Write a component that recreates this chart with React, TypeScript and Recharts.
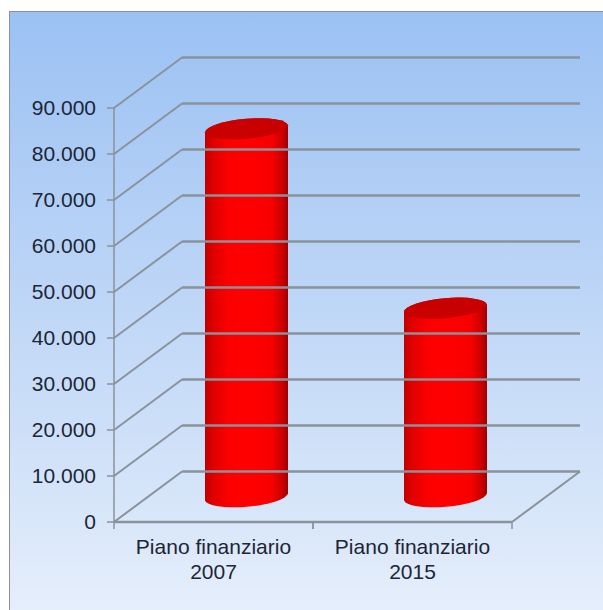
import { Bar, BarChart, XAxis, YAxis } from 'recharts'

const categories = ['Piano finanziario 2007', 'Piano finanziario 2015']
const values = [80000, 41000]
const yTicks = [0, 10000, 20000, 30000, 40000, 50000, 60000, 70000, 80000, 90000]

const chartData = categories.map((name, i) => ({ name, value: values[i] }))

// fake 3D: how far the back wall sits from the front plane
const DEPTH_X = 68
const DEPTH_Y = 50.5
const PLOT_LEFT = 114
const PLOT_WIDTH = 398
const GRID = '#8a929b'
const TEXT = '#1c2635'
const FONT = '"Liberation Sans", Arial, sans-serif'

const formatTick = (v: number) => String(v).replace(/\B(?=(\d{3})+$)/g, '.')

function WallTick({ x, y, payload }: any) {
  const backX = x + DEPTH_X
  const backY = y - DEPTH_Y
  const backEnd = PLOT_LEFT + PLOT_WIDTH + DEPTH_X
  return (
    <g>
      <line x1={x - 7} y1={y} x2={x} y2={y} stroke={GRID} strokeWidth={1.5} />
      <line x1={x} y1={y} x2={backX} y2={backY} stroke={GRID} strokeWidth={2} />
      <line x1={backX} y1={backY} x2={backEnd} y2={backY} stroke={GRID} strokeWidth={2.5} />
      <text
        x={x - 18}
        y={y + 7}
        textAnchor="end"
        fontFamily={FONT}
        fontSize={21}
        fill={TEXT}
      >
        {formatTick(payload.value)}
      </text>
    </g>
  )
}

function CategoryTick({ x, y, payload, index }: any) {
  const band = PLOT_WIDTH / categories.length
  const words = String(payload.value).split(' ')
  const year = words.pop()
  const left = x - band / 2
  const right = x + band / 2
  const isLast = index === categories.length - 1
  return (
    <g>
      <line x1={left} y1={y} x2={left} y2={y + 7} stroke={GRID} strokeWidth={1.5} />
      <line x1={right} y1={y} x2={right} y2={y + 7} stroke={GRID} strokeWidth={1.5} />
      {isLast && (
        <line
          x1={right}
          y1={y}
          x2={right + DEPTH_X}
          y2={y - DEPTH_Y}
          stroke={GRID}
          strokeWidth={2}
        />
      )}
      <text x={x} y={y + 32} textAnchor="middle" fontFamily={FONT} fontSize={21} fill={TEXT}>
        {words.join(' ')}
      </text>
      <text x={x} y={y + 57} textAnchor="middle" fontFamily={FONT} fontSize={21} fill={TEXT}>
        {year}
      </text>
    </g>
  )
}

function Cylinder({ x, y, width, height }: any) {
  const left = x + DEPTH_X / 2 - 1
  const right = left + width
  const top = y - DEPTH_Y / 2
  const bottom = top + height
  const rx = width / 2 + 0.2
  const ry = 10.5
  const tilt = 3.5
  const body = [
    `M${left},${top + tilt}`,
    `L${left},${bottom + tilt}`,
    `A${rx},${ry} -5 0 0 ${right},${bottom - tilt}`,
    `L${right},${top - tilt}`,
    `A${rx},${ry} -5 0 0 ${left},${top + tilt}`,
    'Z',
  ].join(' ')
  const cap = [
    `M${left},${top + tilt}`,
    `A${rx},${ry} -5 0 1 ${right},${top - tilt}`,
    `A${rx},${ry} -5 0 1 ${left},${top + tilt}`,
    'Z',
  ].join(' ')
  return (
    <g>
      <path d={body} fill="url(#cylinderBody)" />
      <path d={cap} fill="#c80000" />
    </g>
  )
}

export default function App() {
  return (
    <div
      style={{
        position: 'absolute',
        left: 0,
        top: 0,
        width: 603,
        height: 610,
        overflow: 'hidden',
        background: '#ffffff',
      }}
    >
      <div
        style={{
          position: 'absolute',
          left: 9,
          top: 11,
          width: 620,
          height: 620,
          boxSizing: 'border-box',
          border: '1.5px solid #8b9199',
          background: 'linear-gradient(180deg, #9bc1f3 0%, #b9d3f6 40%, #d3e3f9 75%, #e8f0fc 100%)',
        }}
      />
      <BarChart
        width={603}
        height={610}
        data={chartData}
        margin={{ top: 108, right: 91, bottom: 0, left: 0 }}
        style={{ position: 'absolute', left: 0, top: 0 }}
      >
        <defs>
          <linearGradient id="cylinderBody" x1="0" y1="0" x2="1" y2="0">
            <stop offset="0%" stopColor="#c00000" />
            <stop offset="10%" stopColor="#e00000" />
            <stop offset="28%" stopColor="#fb0000" />
            <stop offset="50%" stopColor="#ff0000" />
            <stop offset="80%" stopColor="#f80000" />
            <stop offset="93%" stopColor="#cc0000" />
            <stop offset="100%" stopColor="#a00000" />
          </linearGradient>
        </defs>
        <XAxis
          dataKey="name"
          height={88}
          axisLine={{ stroke: GRID, strokeWidth: 2.5 }}
          tickLine={false}
          tickSize={0}
          tickMargin={0}
          tick={CategoryTick}
          interval={0}
        />
        <YAxis
          width={114}
          domain={[0, 90000]}
          ticks={yTicks}
          axisLine={{ stroke: GRID, strokeWidth: 1.5 }}
          tickLine={false}
          tickSize={0}
          tickMargin={0}
          tick={WallTick}
          interval={0}
        />
        <Bar dataKey="value" barSize={83} shape={Cylinder} isAnimationActive={false} />
      </BarChart>
    </div>
  )
}
